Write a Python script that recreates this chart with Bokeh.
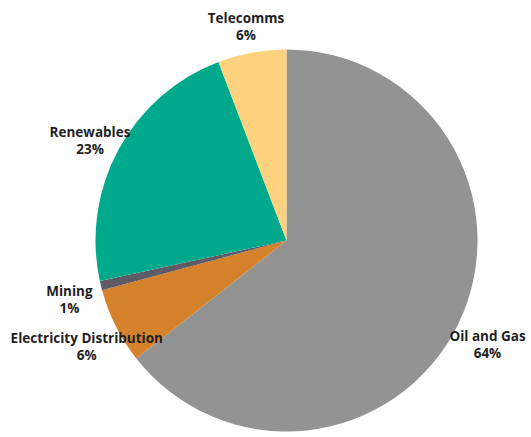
import numpy as np
from bokeh.plotting import figure
from bokeh.models import ColumnDataSource, Range1d
from bokeh.core.properties import value
from bokeh.embed import file_html
from bokeh.resources import INLINE

# Data (clockwise from 12 o'clock)
categories = ["Oil and Gas", "Electricity Distribution", "Mining", "Renewables", "Telecomms"]
shares = [64.4, 6.4, 0.8, 22.6, 5.8]
pct_labels = ["64%", "6%", "1%", "23%", "6%"]
colors = ["#939393", "#D4822C", "#5E5A66", "#00A98B", "#FFD27F"]

W, H = 531, 437
cx, cy, R = 286, H - 240, 191
label_r = R * 1.17

vals = np.array(shares, dtype=float)
frac = vals / vals.sum()
cum = np.concatenate([[0], np.cumsum(frac)])
# clockwise from top: bokeh angle = pi/2 - 2*pi*f
start = np.pi / 2 - 2 * np.pi * cum[:-1]
end = np.pi / 2 - 2 * np.pi * cum[1:]
mid = (start + end) / 2

src = ColumnDataSource(dict(
    start=start, end=end, color=colors,
    lx=cx + label_r * np.cos(mid), ly=cy + label_r * np.sin(mid),
    txt=[f"{c}\n{p}" for c, p in zip(categories, pct_labels)],
))

p = figure(width=W, height=H, output_backend="svg", toolbar_location=None,
           x_range=Range1d(0, W), y_range=Range1d(0, H), min_border=0,
           outline_line_color=None, background_fill_color="white")
p.axis.visible = False
p.grid.visible = False

p.wedge(x=cx, y=cy, radius=R, start_angle="end", end_angle="start",
        fill_color="color", line_color=None, source=src)

p.text(x="lx", y="ly", text="txt", source=src, text_align="center",
       text_baseline="middle", text_font=value("Open Sans"), text_font_style="bold",
       text_font_size="13.5px", text_color="#1f1f1f", text_line_height=0.95,
       y_offset=6)

open("out.html", "w").write(file_html(p, INLINE))
